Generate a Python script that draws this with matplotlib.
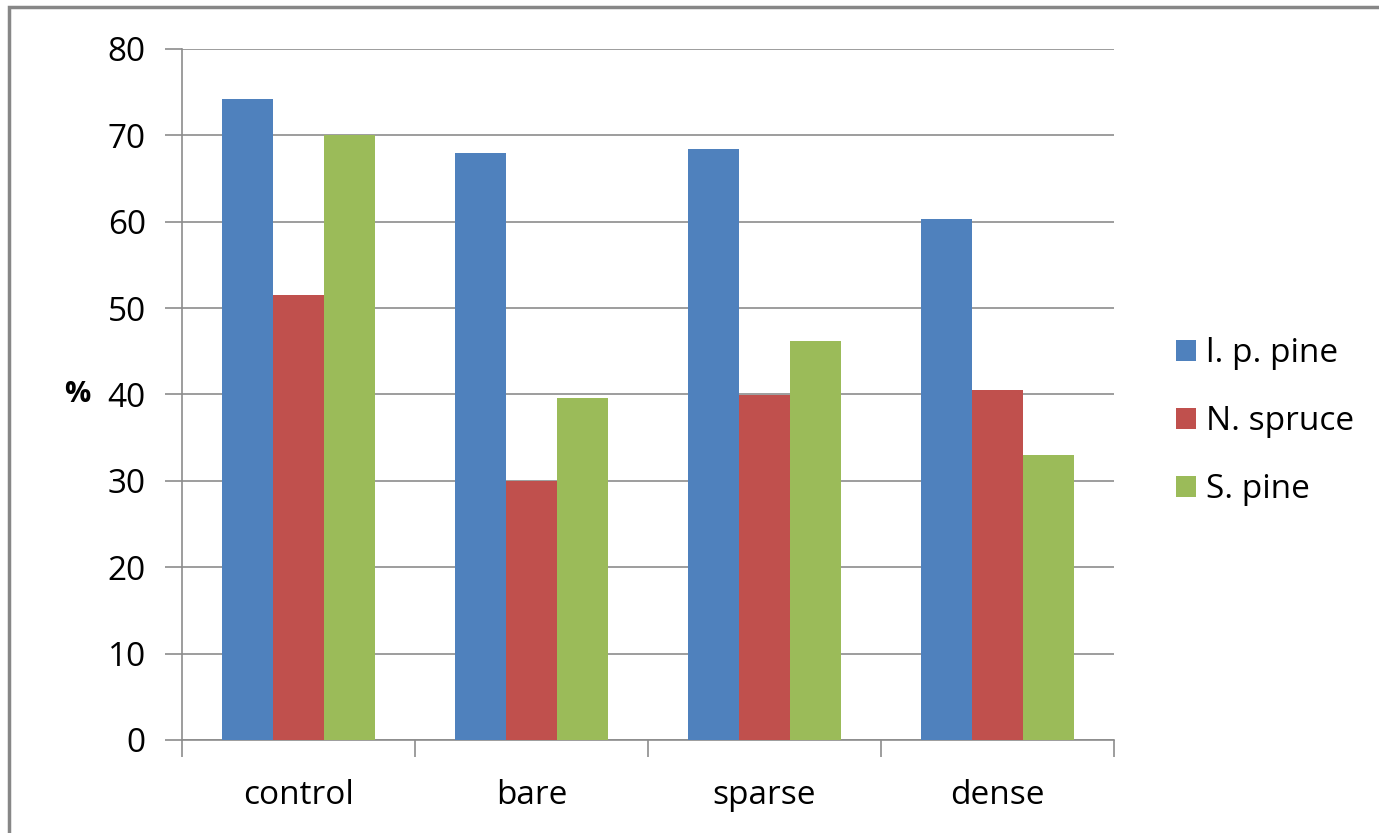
import numpy as np
import matplotlib.pyplot as plt
from matplotlib.patches import Rectangle

categories = ["control", "bare", "sparse", "dense"]
series_names = ["l. p. pine", "N. spruce", "S. pine"]
lp_pine = [74.2, 68.0, 68.4, 60.3]
n_spruce = [51.5, 30.0, 39.9, 40.5]
s_pine = [70.0, 39.6, 46.2, 33.0]
colors = ["#4f81bd", "#c0504d", "#9bbb59"]

plt.rcParams['font.family'] = ['Open Sans', 'DejaVu Sans']

fig = plt.figure(figsize=(13.79, 8.33), dpi=100)
ax = fig.add_axes([182/1379, 1 - 740/833, (1114-182)/1379, (740-49)/833])

# outer chart frame
fig.patches.append(Rectangle((9/1379, -0.05), 1.2, 1 - 7/833 + 0.05,
                             transform=fig.transFigure, fill=False,
                             edgecolor="#878787", linewidth=2.5))

x = np.arange(len(categories))
w = 0.219
for i, (vals, name) in enumerate(zip([lp_pine, n_spruce, s_pine], series_names)):
    ax.bar(x + (i - 1) * w, vals, width=w, color=colors[i], label=name, zorder=3)

ax.set_xlim(-0.5, len(categories) - 0.5)
ax.set_ylim(0, 80)
ax.set_yticks(range(0, 81, 10))
ax.yaxis.grid(True, color="#8c8c8c", linewidth=1.2, zorder=0)
ax.set_xticks(x)
ax.set_xticklabels(categories)
ax.set_xticks(np.arange(-0.5, len(categories), 1), minor=True)
ax.tick_params(axis="x", which="major", length=0, pad=28, labelsize=24)
ax.tick_params(axis="x", which="minor", length=12, width=1.2, color="#8c8c8c")
ax.tick_params(axis="y", length=12, width=1.2, color="#8c8c8c", pad=14, labelsize=24)
for s in ["top", "right"]:
    ax.spines[s].set_visible(False)
for s in ["left", "bottom"]:
    ax.spines[s].set_color("#8c8c8c")
    ax.spines[s].set_linewidth(1.2)

ax.set_ylabel("%", rotation=0, fontsize=21, fontweight="bold", labelpad=22, va="center")

leg = fig.legend(loc="center left", bbox_to_anchor=(1163/1379, 1 - 422/833), frameon=False,
                 fontsize=24, handlelength=0.6, handleheight=0.6,
                 handletextpad=0.3, labelspacing=1.05, borderaxespad=0)

fig.savefig("out.png", dpi=100)
